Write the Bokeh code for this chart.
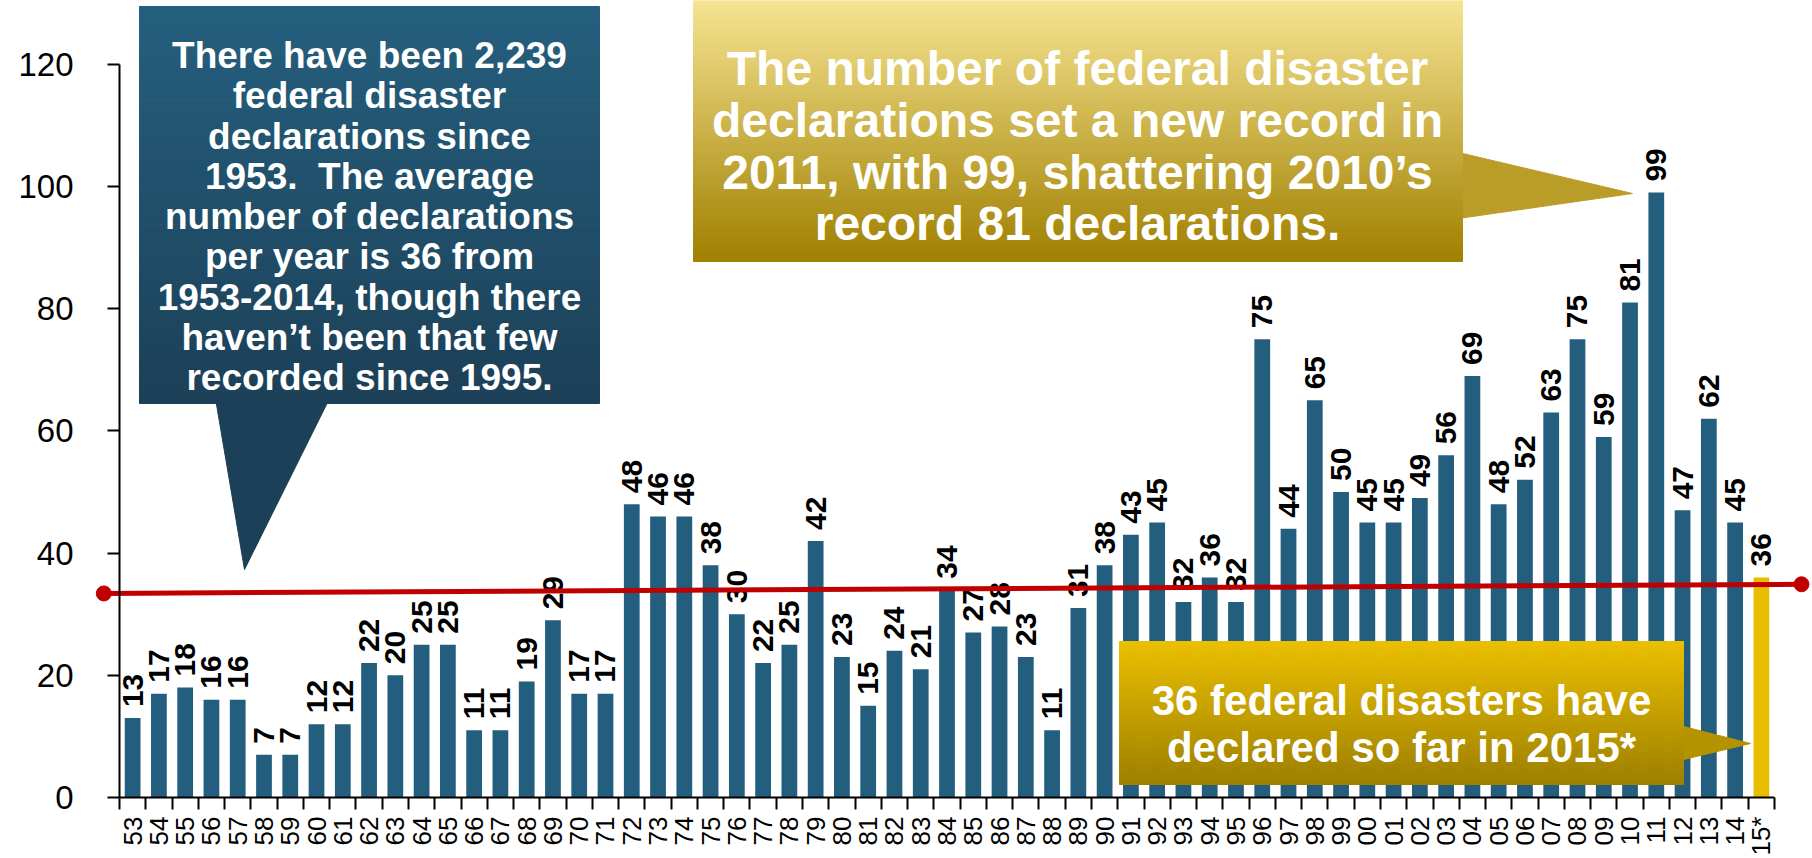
import math
from bokeh.plotting import figure
from bokeh.models import Range1d, FixedTicker, ColumnDataSource
from bokeh.core.properties import value
from bokeh.embed import file_html
from bokeh.resources import INLINE

# ---------------- data ----------------
years = ["53", "54", "55", "56", "57", "58", "59", "60", "61", "62", "63", "64",
         "65", "66", "67", "68", "69", "70", "71", "72", "73", "74", "75", "76",
         "77", "78", "79", "80", "81", "82", "83", "84", "85", "86", "87", "88",
         "89", "90", "91", "92", "93", "94", "95", "96", "97", "98", "99", "00",
         "01", "02", "03", "04", "05", "06", "07", "08", "09", "10", "11", "12",
         "13", "14", "15*"]
declarations = [13, 17, 18, 16, 16, 7, 7, 12, 12, 22, 20, 25,
                25, 11, 11, 19, 29, 17, 17, 48, 46, 46, 38, 30,
                22, 25, 42, 23, 15, 24, 21, 34, 27, 28, 23, 11,
                31, 38, 43, 45, 32, 36, 32, 75, 44, 65, 50, 45,
                45, 49, 56, 69, 48, 52, 63, 75, 59, 81, 99, 47,
                62, 45, 36]
partial_year = ["15*"]
trend_start = 33.4
trend_end = 34.9
y_ticks = [0, 20, 40, 60, 80, 100, 120]

blue_text = ["There have been 2,239", "federal disaster", "declarations since",
             "1953.\u00a0 The average", "number of declarations", "per year is 36 from",
             "1953-2014, though there", "haven\u2019t been that few",
             "recorded since 1995."]
top_text = ["The number of federal disaster", "declarations set a new record in",
            "2011, with 99, shattering 2010\u2019s", "record 81 declarations."]
bottom_text = ["36 federal disasters have", "declared so far in 2015*"]

# ---------------- layout ----------------
FONT = value("Liberation Sans")
W, H = 1812, 858
AX_X = 119.0     # canvas x of the y axis
CW = 26.27       # px per category
ZERO_Y = 797.0   # canvas y of value 0
PXU = 6.11       # px per unit


def dx(px):
    return (px - AX_X) / CW - 0.5


def dy(py):
    return (ZERO_Y - py) / PXU


n = len(years)
p = figure(width=W, height=H, output_backend="svg", toolbar_location=None,
           x_range=Range1d(dx(0), dx(W)), y_range=Range1d(dy(H), dy(0)),
           min_border=0, min_border_left=0, min_border_right=0,
           min_border_top=0, min_border_bottom=0)
p.outline_line_color = None
p.xgrid.visible = False
p.ygrid.visible = False
p.background_fill_color = "white"
p.border_fill_color = "white"

xa = p.xaxis[0]
xa.fixed_location = 0
xa.ticker = FixedTicker(ticks=list(range(n)), minor_ticks=[i - 0.5 for i in range(n + 1)])
xa.major_label_overrides = {i: lab for i, lab in enumerate(years)}
xa.major_tick_out = 0
xa.major_tick_in = 0
xa.minor_tick_out = 12
xa.minor_tick_in = 0
xa.minor_tick_line_color = "black"
xa.minor_tick_line_width = 2
xa.axis_line_color = "black"
xa.axis_line_width = 2
xa.bounds = (-0.5, n - 0.5)
xa.major_label_orientation = math.pi / 2
xa.major_label_standoff = 7
xa.major_label_text_font = "Liberation Sans"
xa.major_label_text_font_size = "26px"
xa.major_label_text_color = "black"

ya = p.yaxis[0]
ya.fixed_location = -0.5
ya.ticker = FixedTicker(ticks=y_ticks, minor_ticks=[])
ya.major_tick_out = 12
ya.major_tick_in = 0
ya.major_tick_line_color = "black"
ya.major_tick_line_width = 2
ya.minor_tick_line_color = None
ya.axis_line_color = "black"
ya.axis_line_width = 2
ya.bounds = (y_ticks[0], y_ticks[-1])
ya.major_label_standoff = 34
ya.major_label_text_font = "Liberation Sans"
ya.major_label_text_font_size = "33px"
ya.major_label_text_color = "black"

BAR = "#245E7E"
GOLD = "#E9BE00"
colors = [GOLD if y in partial_year else BAR for y in years]
src = ColumnDataSource(dict(x=list(range(n)), top=declarations, color=colors,
                            label=[str(v) for v in declarations]))
p.vbar(x="x", top="top", bottom=0, width=0.6, fill_color="color", line_color=None, source=src)
p.text(x="x", y="top", text="label", source=src, angle=math.pi / 2,
       text_align="left", text_baseline="middle", y_offset=-11,
       text_font=FONT, text_font_style="bold", text_font_size="30px", text_color="black")


# ---------------- callouts ----------------
def lerp(c0, c1, f):
    return "#%02x%02x%02x" % tuple(int(round(a + (b - a) * f)) for a, b in zip(c0, c1))


def grad_box(x0, x1, y0, y1, c_top, c_bot, steps=60):
    L, R, T, B, C = [], [], [], [], []
    for k in range(steps):
        t0 = y0 + (y1 - y0) * k / steps
        t1 = y0 + (y1 - y0) * (k + 1) / steps
        L.append(dx(x0)); R.append(dx(x1)); T.append(dy(t0)); B.append(dy(t1))
        C.append(lerp(c_top, c_bot, (k + 0.5) / steps))
    p.quad(left=L, right=R, top=T, bottom=B, fill_color=C, line_color=C, line_width=1)


def pointer(pts, color):
    p.patch(x=[dx(a) for a, b in pts], y=[dy(b) for a, b in pts],
            fill_color=color, line_color=color, line_width=1)


def lines_text(cx, baselines, lines, size):
    p.text(x=[dx(cx)] * len(lines), y=[dy(b) for b in baselines], text=lines,
           text_align="center", text_baseline="alphabetic", text_color="white",
           text_font=FONT, text_font_style="bold", text_font_size=size)


# blue callout
pointer([(215, 398), (244, 569), (329, 398)], "#1c4057")
grad_box(139, 599, 6, 403, (37, 95, 126), (28, 64, 87))
lines_text(369, [55 + 40.25 * i for i in range(len(blue_text))], blue_text, "37px")

# top gold callout
pointer([(1458, 152), (1632, 193), (1458, 218)], "#ba9d28")
grad_box(693, 1462, 0, 261, (246, 228, 146), (160, 128, 0))
lines_text(1077, [68, 120, 172, 223], top_text, "48px")

# bottom gold callout
pointer([(1679, 725), (1750, 743), (1679, 760)], "#b49200")
grad_box(1119, 1683, 641, 784, (235, 192, 0), (158, 128, 0))
lines_text(1401, [700, 747], bottom_text, "42px")

# ---------------- trend line ----------------
RED = "#C00000"
tx = [dx(103.3), dx(1801)]
ty = [trend_start, trend_end]
p.line(x=tx, y=ty, line_color=RED, line_width=5)
p.scatter(x=tx, y=ty, size=15, fill_color=RED, line_color=RED)

open("out.html", "w").write(file_html(p, INLINE))
